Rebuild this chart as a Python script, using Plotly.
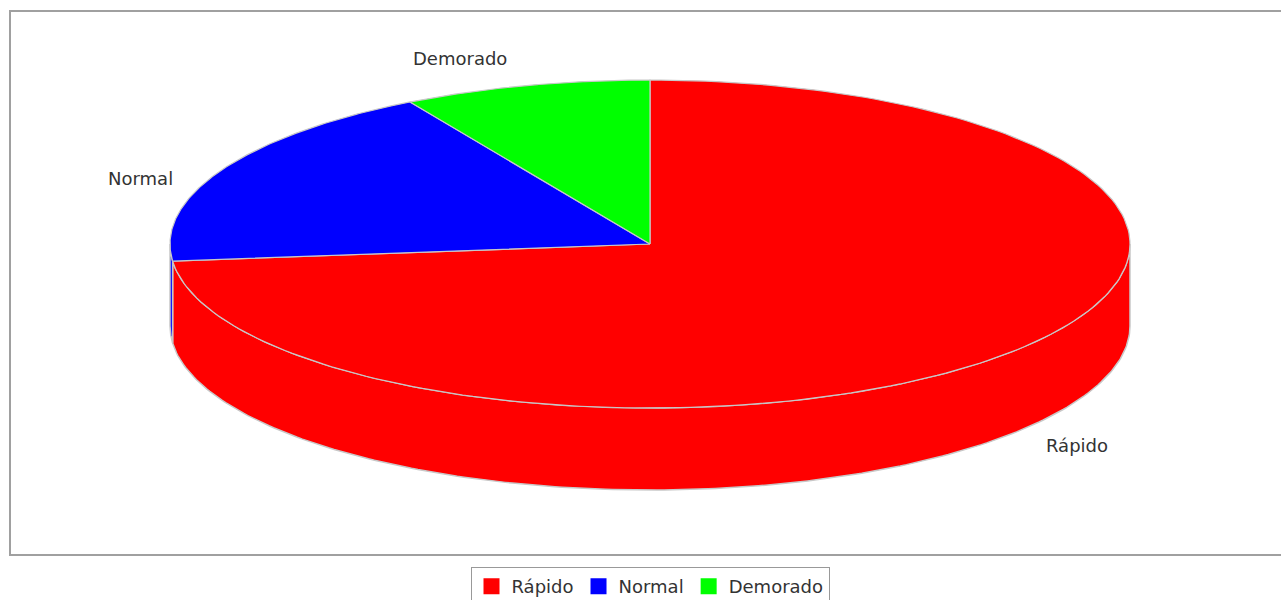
import numpy as np
import plotly.graph_objects as go

# ---- data ----
categories = ["Rápido", "Normal", "Demorado"]
values = [44, 11, 5]
colors = ["#ff0000", "#0000ff", "#00ff00"]

# ---- geometry / style (pixel space) ----
W, H = 1281, 600
cx, cy, rx, ry, depth = 650, 244, 480, 164, 82
start_angle = 90  # degrees, slices go clockwise
edge_col = "#c8c8c8"
label_pos = {"Rápido": (1077, 445), "Normal": (140, 178), "Demorado": (460, 58)}

total = float(sum(values))
spans = []
a = start_angle
for v in values:
    s = v / total * 360.0
    spans.append((a, a - s))
    a -= s


def arc(t0, t1, dz=0.0, n=200):
    t = np.radians(np.linspace(t0, t1, n))
    return list(cx + rx * np.cos(t)), list(cy - ry * np.sin(t) + dz)


fig = go.Figure()

# side walls (front half only)
for (a0, a1), col in zip(spans, colors):
    for k in (-360, 0, 360):
        hi = min(a0, 0 + k)
        lo = max(a1, -180 + k)
        if hi > lo:
            xs_t, ys_t = arc(hi, lo)
            xs_b, ys_b = arc(lo, hi, depth)
            fig.add_trace(go.Scatter(
                x=xs_t + xs_b + [xs_t[0]], y=ys_t + ys_b + [ys_t[0]],
                fill="toself", fillcolor=col, mode="lines",
                line=dict(color=edge_col, width=1.5),
                hoverinfo="skip", showlegend=False))

# top faces
for (a0, a1), col in zip(spans, colors):
    xs, ys = arc(a0, a1)
    fig.add_trace(go.Scatter(
        x=[cx] + xs + [cx], y=[cy] + ys + [cy],
        fill="toself", fillcolor=col, mode="lines",
        line=dict(color=edge_col, width=1.2),
        hoverinfo="skip", showlegend=False))

# legend entries
for cat, col in zip(categories, colors):
    fig.add_trace(go.Scatter(
        x=[None], y=[None], mode="markers", name=cat,
        marker=dict(symbol="square", size=16, color=col)))

annotations = []
for cat in categories:
    lx, ly = label_pos[cat]
    annotations.append(dict(
        x=lx, y=ly, xref="x", yref="y", text=cat, showarrow=False,
        font=dict(family="DejaVu Sans", size=18, color="#333333"),
        xanchor="center", yanchor="middle"))

fig.update_layout(
    width=W, height=H,
    margin=dict(l=0, r=0, t=0, b=0, autoexpand=False),
    paper_bgcolor="white", plot_bgcolor="white",
    xaxis=dict(range=[0, W], visible=False, fixedrange=True),
    yaxis=dict(range=[H, 0], visible=False, fixedrange=True),
    showlegend=True,
    legend=dict(orientation="h", x=650 / W, xanchor="center",
                y=1 - 567 / H, yanchor="top",
                bordercolor="#999999", borderwidth=1,
                font=dict(family="DejaVu Sans", size=18, color="#333333"),
                itemwidth=30),
    annotations=annotations,
    shapes=[dict(type="rect", xref="x", yref="y", x0=10, y0=11, x1=W + 20, y1=555,
                 line=dict(color="#a0a0a0", width=2), layer="below")],
)

fig.write_html("out.html")
